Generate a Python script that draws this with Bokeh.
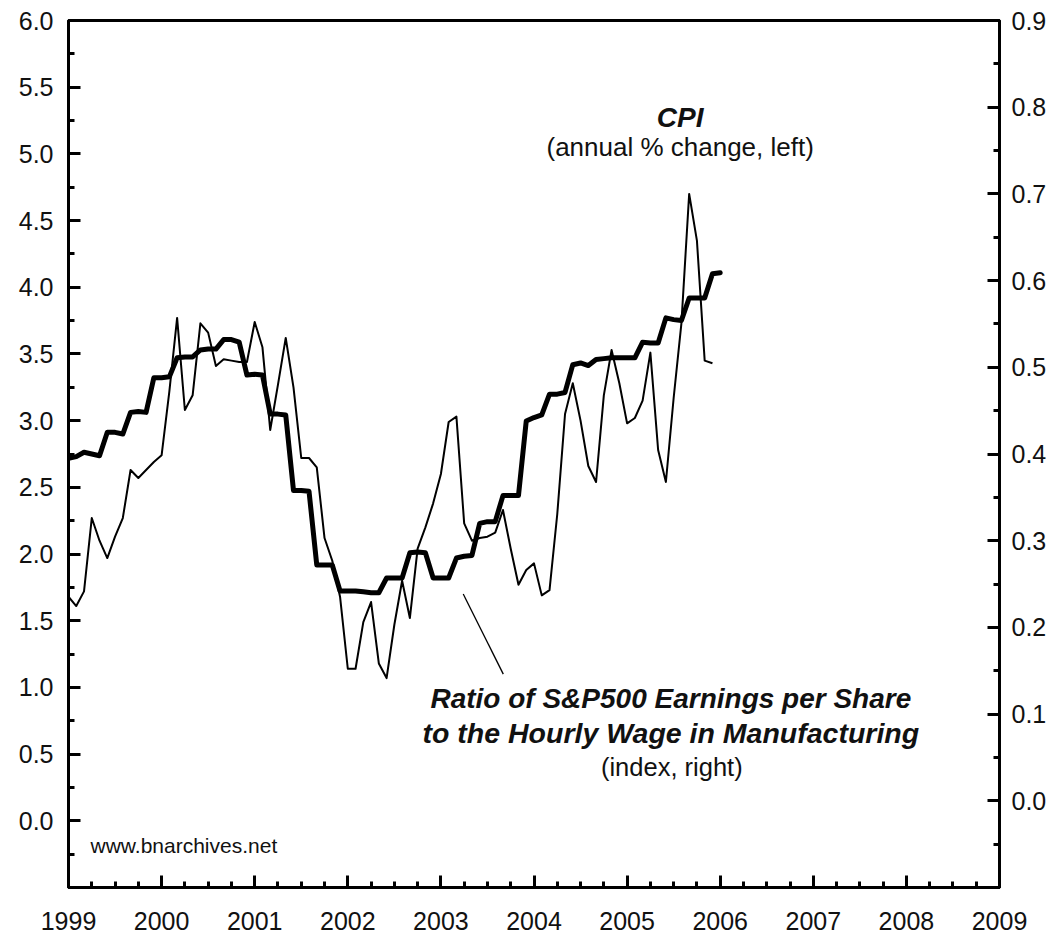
from bokeh.plotting import figure
from bokeh.models import Range1d, LinearAxis, FixedTicker, PrintfTickFormatter, Label
from bokeh.embed import file_html
from bokeh.resources import INLINE

# ---------------- data ----------------
start_year = 1999
# CPI, annual % change (left axis), monthly Jan 1999 .. Dec 2005
cpi = [
    1.68, 1.61, 1.72, 2.27, 2.10, 1.97, 2.13, 2.27, 2.63, 2.57, 2.63, 2.69,   # 1999
    2.74, 3.22, 3.77, 3.08, 3.19, 3.73, 3.66, 3.41, 3.46, 3.45, 3.44, 3.44,   # 2000
    3.74, 3.55, 2.93, 3.27, 3.62, 3.25, 2.72, 2.72, 2.65, 2.12, 1.95, 1.68,   # 2001
    1.14, 1.14, 1.49, 1.64, 1.18, 1.07, 1.47, 1.80, 1.52, 2.04, 2.20, 2.38,   # 2002
    2.60, 2.99, 3.03, 2.23, 2.10, 2.12, 2.13, 2.16, 2.33, 2.04, 1.77, 1.88,   # 2003
    1.93, 1.69, 1.73, 2.30, 3.05, 3.28, 3.00, 2.66, 2.54, 3.19, 3.53, 3.28,   # 2004
    2.98, 3.02, 3.15, 3.51, 2.78, 2.54, 3.17, 3.73, 4.70, 4.35, 3.45, 3.43,   # 2005
]
# Ratio of S&P500 EPS to hourly wage in manufacturing (index, right axis), monthly Jan 1999 .. Jan 2006
ratio = [
    0.395, 0.397, 0.402, 0.400, 0.398,
    0.425, 0.425, 0.423,
    0.448, 0.449, 0.448,
    0.488, 0.488, 0.489,
    0.511, 0.512, 0.512,
    0.520, 0.521, 0.521,
    0.532, 0.532, 0.529,
    0.491, 0.492, 0.491,
    0.446, 0.446, 0.445,
    0.358, 0.358, 0.357,
    0.272, 0.272, 0.272,
    0.242, 0.242, 0.242,
    0.241, 0.240, 0.240,
    0.257, 0.257, 0.257,
    0.286, 0.287, 0.286,
    0.257, 0.257, 0.257,
    0.280, 0.282, 0.283,
    0.320, 0.322, 0.322,
    0.352, 0.352, 0.352,
    0.438, 0.442, 0.445,
    0.469, 0.469, 0.471,
    0.503, 0.505, 0.502,
    0.509, 0.510, 0.511, 0.511, 0.511, 0.511,
    0.529, 0.528, 0.528,
    0.557, 0.555, 0.554,
    0.580, 0.580, 0.580,
    0.608, 0.609,
]
x_years = list(range(1999, 2010))
left_ticks = [0.0, 0.5, 1.0, 1.5, 2.0, 2.5, 3.0, 3.5, 4.0, 4.5, 5.0, 5.5, 6.0]
right_ticks = [0.0, 0.1, 0.2, 0.3, 0.4, 0.5, 0.6, 0.7, 0.8, 0.9]

cpi_x = [start_year + i / 12 for i in range(len(cpi))]
ratio_x = [start_year + i / 12 for i in range(len(ratio))]

FONT = "Liberation Sans"
INK = "#111111"

p = figure(width=1058, height=934, x_range=Range1d(1999, 2009), y_range=Range1d(-0.5, 6.0),
           output_backend="svg", toolbar_location=None,
           min_border_left=68, min_border_right=59, min_border_top=20, min_border_bottom=47)
p.extra_y_ranges = {"right": Range1d(-0.1, 0.9)}
p.xgrid.visible = False
p.ygrid.visible = False
p.outline_line_color = "black"
p.outline_line_width = 3
p.background_fill_color = "white"
p.border_fill_color = "white"

def style_axis(ax, standoff):
    ax.axis_line_width = 3
    ax.axis_line_color = "black"
    ax.major_tick_in = 12
    ax.major_tick_out = 0
    ax.minor_tick_in = 6
    ax.minor_tick_out = 0
    ax.major_tick_line_width = 3
    ax.minor_tick_line_width = 3
    ax.major_label_text_font = FONT
    ax.major_label_text_font_size = "25px"
    ax.major_label_text_color = INK
    ax.major_label_standoff = standoff

# bottom axis
xa = p.xaxis[0]
xa.ticker = FixedTicker(ticks=x_years,
                        minor_ticks=[1999 + q / 4 for q in range(41)])
xa.formatter = PrintfTickFormatter(format="%d")
style_axis(xa, 24)

# left axis
ya = p.yaxis[0]
ya.ticker = FixedTicker(ticks=left_ticks,
                        minor_ticks=[-0.5 + q * 0.25 for q in range(27)])
ya.formatter = PrintfTickFormatter(format="%.1f")
style_axis(ya, 15)

# right axis
ra = LinearAxis(y_range_name="right")
ra.ticker = FixedTicker(ticks=right_ticks,
                        minor_ticks=[round(-0.1 + q * 0.05, 3) for q in range(21)])
ra.formatter = PrintfTickFormatter(format="%.1f")
style_axis(ra, 12)
p.add_layout(ra, "right")

# series
p.line(cpi_x, cpi, line_color="black", line_width=2, line_join="round")
p.line(ratio_x, ratio, line_color="black", line_width=5, line_join="round",
       line_cap="round", y_range_name="right")

# pointer line to the ratio series
p.line([2003.24, 2003.67], [1.70, 1.10], line_color="black", line_width=1.3)

# annotations
def add_label(x, y, text, size, style="normal", align="center"):
    p.add_layout(Label(x=x, y=y, text=text, text_align=align, text_baseline="middle",
                       text_font=FONT, text_font_size=size, text_font_style=style,
                       text_color=INK))

add_label(2005.57, 5.27, "CPI", "28px", "bold italic")
add_label(2005.57, 5.055, "(annual % change, left)", "26px")
add_label(2005.47, 0.92, "Ratio of S&P500 Earnings per Share", "28px", "bold italic")
add_label(2005.47, 0.655, "to the Hourly Wage in Manufacturing", "28.5px", "bold italic")
add_label(2005.48, 0.40, "(index, right)", "25.5px")
add_label(1999.236, -0.185, "www.bnarchives.net", "21px", "normal", "left")

open("out.html", "w").write(file_html(p, INLINE))
